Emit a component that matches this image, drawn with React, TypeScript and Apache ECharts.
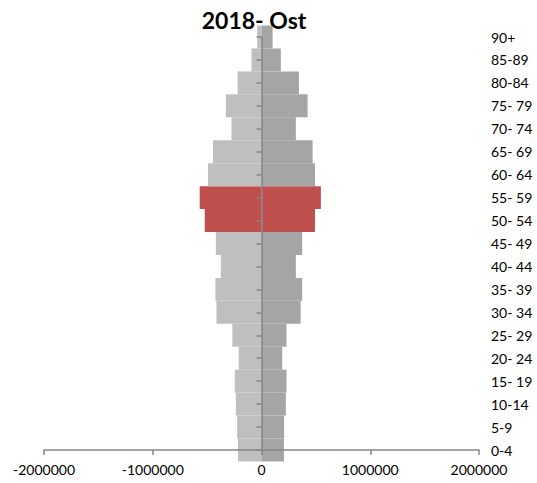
import React, { useEffect, useRef } from "react";
import * as echarts from "echarts";

const categories = [
  "0-4", "5-9", "10-14", "15- 19", "20- 24", "25- 29", "30- 34", "35- 39", "40- 44",
  "45- 49", "50- 54", "55- 59", "60- 64", "65- 69", "70- 74", "75- 79", "80-84", "85-89", "90+",
];
const leftValues = [
  -216000, -224000, -236000, -246000, -210000, -268000, -414000, -424000, -374000,
  -420000, -522000, -568000, -492000, -446000, -276000, -328000, -220000, -92000, -40000,
];
const rightValues = [
  206000, 208000, 224000, 230000, 190000, 230000, 360000, 374000, 316000,
  374000, 492000, 546000, 492000, 470000, 316000, 424000, 344000, 178000, 102000,
];
const highlighted = ["50- 54", "55- 59"];
const xTicks = { min: -2000000, max: 2000000, interval: 1000000 };
const titleText = "2018- Ost";

const FONT = "Lato";
const AXIS_COLOR = "#868686";
const LEFT_COLOR = "#bfbfbf";
const RIGHT_COLOR = "#a5a5a5";
const HIGHLIGHT_COLOR = "#c0504d";

export default function App() {
  const ref = useRef<HTMLDivElement>(null);
  useEffect(() => {
    if (!ref.current) return;
    const chart = echarts.init(ref.current, null, { renderer: "svg" });
    const mk = (vals: number[], color: string) =>
      vals.map((v, i) => ({
        value: v,
        itemStyle: { color: highlighted.includes(categories[i]) ? HIGHLIGHT_COLOR : color },
      }));
    chart.setOption({
      animation: false,
      textStyle: { fontFamily: FONT },
      title: {
        text: titleText,
        left: 249,
        top: 3,
        textAlign: "center",
        textStyle: { fontFamily: FONT, fontWeight: "bold", fontSize: 23, color: "#000" },
      },
      grid: { left: 44, right: 58, top: 37, bottom: 33, containLabel: false },
      xAxis: {
        type: "value",
        min: xTicks.min,
        max: xTicks.max,
        interval: xTicks.interval,
        z: 3,
        splitLine: { show: false },
        axisLine: { show: true, lineStyle: { color: AXIS_COLOR, width: 1.5 } },
        axisTick: { show: true, length: 5, lineStyle: { color: AXIS_COLOR, width: 1.5 } },
        axisLabel: {
          color: "#000",
          fontSize: 14,
          fontFamily: FONT,
          margin: 12,
          formatter: (v: number) => String(v),
        },
      },
      yAxis: [
        {
          type: "category",
          data: categories,
          boundaryGap: false,
          z: 3,
          axisLine: { show: true, onZero: true, lineStyle: { color: AXIS_COLOR, width: 1.5 } },
          axisTick: { show: true, length: 5, lineStyle: { color: AXIS_COLOR, width: 1.5 } },
          axisLabel: { show: false },
          splitLine: { show: false },
        },
        {
          type: "category",
          data: categories,
          boundaryGap: false,
          position: "right",
          axisLine: { show: false, onZero: false },
          axisTick: { show: false },
          axisLabel: { show: true, color: "#000", fontSize: 14, fontFamily: FONT, margin: 12 },
          splitLine: { show: false },
        },
      ],
      series: [
        {
          type: "bar",
          name: "left",
          stack: "pop",
          yAxisIndex: 0,
          barCategoryGap: "0%",
          clip: true,
          data: mk(leftValues, LEFT_COLOR),
        },
        {
          type: "bar",
          name: "right",
          stack: "pop",
          yAxisIndex: 0,
          barCategoryGap: "0%",
          clip: true,
          data: mk(rightValues, RIGHT_COLOR),
        },
      ],
    });
    return () => chart.dispose();
  }, []);
  return (
    <div
      ref={ref}
      style={{ position: "absolute", left: 0, top: 0, width: 537, height: 483 }}
    />
  );
}
